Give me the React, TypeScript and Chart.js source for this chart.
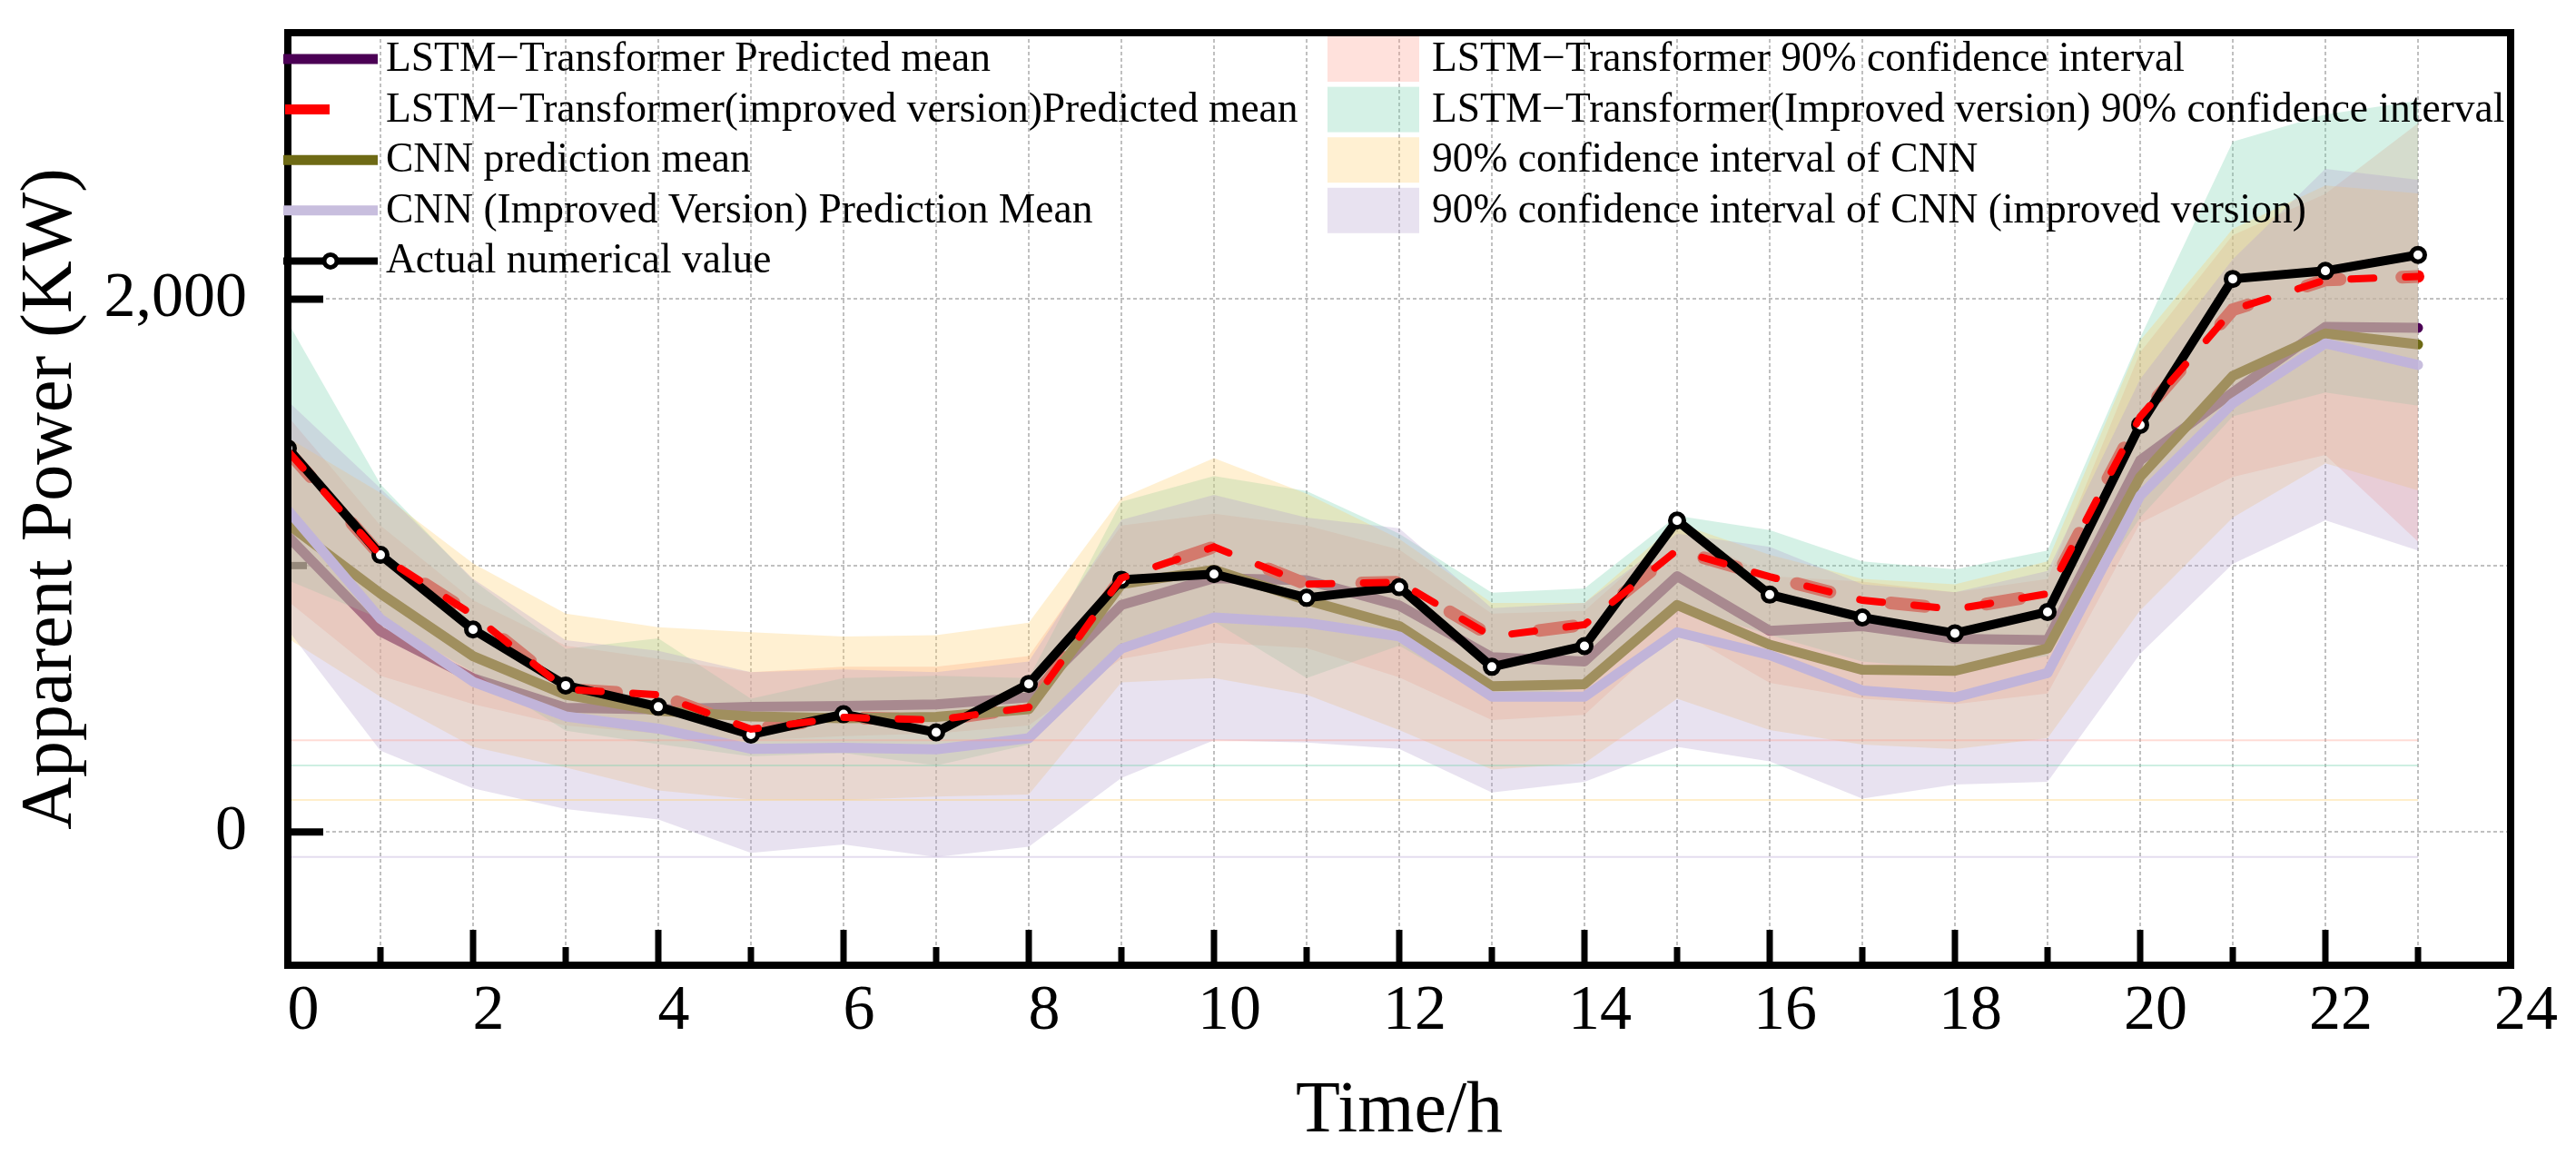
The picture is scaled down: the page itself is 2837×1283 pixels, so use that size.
import {
  Chart,
  type ChartConfiguration,
  type ChartDataset,
  type Plugin,
  registerables,
} from "chart.js";
import { useEffect, useRef } from "react";

Chart.register(...registerables);

const FONT = '"Liberation Serif", "Times New Roman", serif';

const hours = [0, 1, 2, 3, 4, 5, 6, 7, 8, 9, 10, 11, 12, 13, 14, 15, 16, 17, 18, 19, 20, 21, 22, 23];

const actualValues = [1440, 1040, 760, 550, 470, 366, 442, 374, 556, 947, 968, 879, 919, 620, 698, 1169, 891, 805, 746, 826, 1528, 2076, 2106, 2166];

const lstmMean = [1110, 753, 577, 466, 460, 470, 473, 479, 505, 852, 953, 945, 850, 656, 640, 960, 755, 773, 725, 720, 1395, 1650, 1896, 1892];
const lstmImprovedMean = [1430, 1038, 815, 535, 515, 386, 430, 420, 468, 953, 1070, 930, 938, 734, 778, 1058, 958, 870, 836, 894, 1558, 1960, 2072, 2085];
const cnnMean = [1156, 895, 660, 515, 455, 434, 427, 432, 461, 930, 984, 870, 773, 547, 555, 852, 703, 609, 605, 689, 1333, 1712, 1871, 1830];
const cnnImprovedMean = [1208, 800, 564, 434, 388, 312, 316, 310, 352, 688, 805, 785, 734, 508, 508, 750, 664, 531, 505, 597, 1262, 1609, 1834, 1753];

const lstmUpper = [1560, 1150, 870, 700, 650, 600, 620, 620, 660, 1150, 1195, 1150, 1060, 820, 830, 1140, 960, 940, 900, 950, 1800, 2240, 2395, 2660];
const lstmLower = [867, 586, 480, 400, 370, 344, 360, 370, 400, 650, 711, 690, 580, 420, 440, 760, 560, 500, 480, 520, 1160, 1333, 1415, 1090];
const lstmImprovedUpper = [1914, 1305, 945, 688, 727, 500, 578, 586, 578, 1240, 1336, 1280, 1120, 898, 914, 1187, 1133, 1016, 986, 1057, 1855, 2591, 2693, 2744];
const lstmImprovedLower = [945, 800, 600, 380, 330, 284, 297, 250, 328, 700, 790, 578, 700, 500, 540, 850, 740, 640, 610, 660, 1180, 1560, 1650, 1600];
const cnnUpper = [1480, 1273, 1008, 820, 769, 750, 734, 739, 786, 1253, 1403, 1270, 1100, 860, 860, 1160, 1040, 950, 930, 1016, 1845, 2264, 2427, 2397];
const cnnLower = [727, 508, 320, 242, 156, 122, 120, 133, 141, 562, 578, 516, 383, 234, 258, 500, 383, 328, 311, 352, 832, 1180, 1384, 1282];
const cnnImprovedUpper = [1617, 1290, 950, 720, 680, 600, 610, 600, 640, 1172, 1265, 1180, 1140, 840, 860, 1120, 1070, 930, 900, 980, 1700, 2150, 2489, 2448];
const cnnImprovedLower = [758, 305, 164, 86, 47, -78, -47, -94, -55, 203, 344, 336, 312, 148, 188, 320, 265, 125, 178, 188, 669, 1006, 1170, 1057];

// faint horizontal lines left at the floor of each band
const bandFloors = [344, 250, 120, -94];

const xTickLabels = [0, 2, 4, 6, 8, 10, 12, 14, 16, 18, 20, 22, 24];
const yGridValues = [0, 1000, 2000];
const yTickLabels = [0, 2000];

const lineLegend = [
  "LSTM−Transformer Predicted mean",
  "LSTM−Transformer(improved version)Predicted mean",
  "CNN prediction mean",
  "CNN (Improved Version) Prediction Mean",
  "Actual numerical value",
];
const bandLegend = [
  "LSTM−Transformer 90% confidence interval",
  "LSTM−Transformer(Improved version) 90% confidence interval",
  "90% confidence interval of CNN",
  "90% confidence interval of CNN (improved version)",
];

const PURPLE = "#4b0055";
const RED = "#ff0000";
const OLIVE = "#6e6a15";
const LAVENDER = "#c8bede";
const GRID = "#c0c0c0";
const bandColors = [
  "rgba(255, 155, 138, 0.3)",
  "rgba(115, 208, 172, 0.3)",
  "rgba(255, 205, 105, 0.3)",
  "rgba(178, 158, 205, 0.3)",
];
const floorColors = [
  "rgba(255, 155, 138, 0.35)",
  "rgba(115, 208, 172, 0.35)",
  "rgba(255, 205, 105, 0.35)",
  "rgba(178, 158, 205, 0.35)",
];

function points(values: number[]) {
  return hours.map((h, i) => ({ x: h, y: values[i] }));
}

function meanLine(
  label: string,
  values: number[],
  color: string,
  order: number,
): ChartDataset<"line"> {
  return {
    label,
    data: points(values),
    borderColor: color,
    borderWidth: 11,
    borderCapStyle: "round",
    borderJoinStyle: "round",
    pointRadius: 0,
    fill: false,
    order,
  };
}

function band(
  label: string,
  upper: number[],
  lower: number[],
  color: string,
  order: number,
): ChartDataset<"line">[] {
  return [
    {
      label: `${label} lower`,
      data: points(lower),
      borderWidth: 0,
      borderColor: "transparent",
      pointRadius: 0,
      fill: false,
      order,
    },
    {
      label,
      data: points(upper),
      borderWidth: 0,
      borderColor: "transparent",
      backgroundColor: color,
      pointRadius: 0,
      fill: "-1",
      order,
    },
  ];
}

const backgroundPlugin: Plugin<"line"> = {
  id: "whiteBackground",
  beforeDraw(chart) {
    const { ctx, width, height } = chart;
    ctx.save();
    ctx.fillStyle = "#ffffff";
    ctx.fillRect(0, 0, width, height);
    ctx.restore();
  },
};

const innerTicksPlugin: Plugin<"line"> = {
  id: "innerTicks",
  beforeDatasetsDraw(chart) {
    const { ctx, chartArea, scales } = chart;
    const x = scales.x;
    const y = scales.y;
    ctx.save();
    ctx.strokeStyle = "#000000";
    ctx.lineCap = "butt";
    ctx.lineWidth = 7;
    x.ticks.forEach((tick) => {
      if (tick.value <= x.min || tick.value >= x.max) return;
      const px = x.getPixelForValue(tick.value);
      const len = xTickLabels.includes(tick.value) ? 39 : 20;
      ctx.beginPath();
      ctx.moveTo(px, chartArea.bottom);
      ctx.lineTo(px, chartArea.bottom - len);
      ctx.stroke();
    });
    ctx.lineWidth = 8;
    y.ticks.forEach((tick) => {
      if (tick.value <= y.min || tick.value >= y.max) return;
      const py = y.getPixelForValue(tick.value);
      const len = yTickLabels.includes(tick.value) ? 39 : 21;
      ctx.beginPath();
      ctx.moveTo(chartArea.left, py);
      ctx.lineTo(chartArea.left + len, py);
      ctx.stroke();
    });
    ctx.restore();
  },
};

const frameLegendPlugin: Plugin<"line"> = {
  id: "frameLegend",
  afterDraw(chart) {
    const { ctx, chartArea } = chart;
    const { left, top, right, bottom } = chartArea;
    ctx.save();
    ctx.strokeStyle = "#000000";
    ctx.lineWidth = 8;
    ctx.lineJoin = "miter";
    ctx.strokeRect(left, top, right - left, bottom - top);

    const rowY = (i: number) => top + 29 + i * 55.6;
    const symStart = left - 5;
    const symEnd = left + 99;

    ctx.font = `45.5px ${FONT}`;
    ctx.textBaseline = "middle";
    ctx.textAlign = "left";

    const lineStyles = [
      { color: PURPLE, width: 11 },
      { color: RED, width: 11 },
      { color: OLIVE, width: 11 },
      { color: LAVENDER, width: 11 },
      { color: "#000000", width: 8 },
    ];
    lineLegend.forEach((text, i) => {
      const yy = rowY(i);
      const style = lineStyles[i];
      ctx.strokeStyle = style.color;
      ctx.lineWidth = style.width;
      ctx.lineCap = "butt";
      ctx.beginPath();
      if (i === 1) {
        ctx.moveTo(symStart + 2, yy);
        ctx.lineTo(symStart + 51, yy);
      } else {
        ctx.moveTo(symStart, yy);
        ctx.lineTo(symEnd, yy);
      }
      ctx.stroke();
      if (i === 4) {
        ctx.beginPath();
        ctx.arc((symStart + symEnd) / 2, yy, 7, 0, Math.PI * 2);
        ctx.fillStyle = "#ffffff";
        ctx.fill();
        ctx.lineWidth = 5;
        ctx.strokeStyle = "#000000";
        ctx.stroke();
      }
      ctx.fillStyle = "#000000";
      ctx.fillText(text, left + 108, yy + 1);
    });

    bandLegend.forEach((text, i) => {
      const yy = rowY(i);
      ctx.fillStyle = bandColors[i];
      ctx.fillRect(left + 1145, yy - 25, 101, 50);
      ctx.fillStyle = "#000000";
      ctx.fillText(text, left + 1260, yy + 1);
    });
    ctx.restore();
  },
};

function buildConfig(): ChartConfiguration<"line"> {
  const floorLines: ChartDataset<"line">[] = bandFloors.map((v, i) => ({
    label: `floor ${i}`,
    data: [
      { x: hours[0], y: v },
      { x: hours[hours.length - 1], y: v },
    ],
    borderColor: floorColors[i],
    borderWidth: 2,
    pointRadius: 0,
    fill: false,
    order: 5,
  }));

  // drawing order (high order = further down): purple line, pink band,
  // red under-stroke, mint band, olive line, cream band, lavender line,
  // lavender band, then actual values and the red dashed mean on top
  const datasets: ChartDataset<"line">[] = [
    meanLine(lineLegend[0], lstmMean, PURPLE, 30),
    ...band(bandLegend[0], lstmUpper, lstmLower, bandColors[0], 29),
    {
      label: "improved mean (under)",
      data: points(lstmImprovedMean),
      borderColor: RED,
      borderWidth: 14,
      borderDash: [38, 68],
      borderCapStyle: "round",
      pointRadius: 0,
      fill: false,
      order: 28,
    },
    ...band(bandLegend[1], lstmImprovedUpper, lstmImprovedLower, bandColors[1], 27),
    meanLine(lineLegend[2], cnnMean, OLIVE, 26),
    ...band(bandLegend[2], cnnUpper, cnnLower, bandColors[2], 25),
    meanLine(lineLegend[3], cnnImprovedMean, LAVENDER, 24),
    ...band(bandLegend[3], cnnImprovedUpper, cnnImprovedLower, bandColors[3], 23),
    ...floorLines,
    {
      label: lineLegend[4],
      data: points(actualValues),
      borderColor: "#000000",
      borderWidth: 10,
      borderJoinStyle: "round",
      pointRadius: 7.5,
      pointBorderWidth: 5,
      pointBackgroundColor: "#ffffff",
      pointBorderColor: "#000000",
      fill: false,
      order: 2,
    },
    {
      label: lineLegend[1],
      data: points(lstmImprovedMean),
      borderColor: RED,
      borderWidth: 8,
      borderDash: [25, 35],
      borderCapStyle: "round",
      pointRadius: 0,
      fill: false,
      order: 1,
    },
  ];

  return {
    type: "line",
    data: { datasets },
    plugins: [backgroundPlugin, innerTicksPlugin, frameLegendPlugin],
    options: {
      animation: false,
      responsive: true,
      maintainAspectRatio: false,
      devicePixelRatio: 1,
      layout: { padding: { top: 36, right: 72, left: 0, bottom: 0 } },
      elements: { line: { tension: 0 } },
      plugins: {
        legend: { display: false },
        tooltip: { enabled: false },
      },
      scales: {
        x: {
          type: "linear",
          min: 0,
          max: 24,
          afterFit(scale) {
            scale.height = 220;
            scale.paddingLeft = 0;
            scale.paddingRight = 0;
          },
          border: { display: false, dash: [4, 3] },
          grid: { color: GRID, lineWidth: 2, drawTicks: false },
          ticks: {
            stepSize: 1,
            autoSkip: false,
            maxRotation: 0,
            padding: 10,
            labelOffset: 17,
            color: "#000000",
            font: { family: FONT, size: 70 },
            callback(value) {
              return xTickLabels.includes(Number(value)) ? String(value) : "";
            },
          },
          title: {
            display: true,
            text: "Time/h",
            color: "#000000",
            font: { family: FONT, size: 80 },
            padding: { top: 0, bottom: 10 },
          },
        },
        y: {
          type: "linear",
          min: -500,
          max: 3000,
          afterBuildTicks(scale) {
            scale.ticks = yGridValues.map((value) => ({ value }));
          },
          afterFit(scale) {
            scale.width = 317;
            scale.paddingTop = 0;
            scale.paddingBottom = 0;
          },
          border: { display: false, dash: [4, 3] },
          grid: { color: GRID, lineWidth: 2, drawTicks: false },
          ticks: {
            padding: 45,
            color: "#000000",
            font: { family: FONT, size: 70 },
            callback(value) {
              const v = Number(value);
              return yTickLabels.includes(v) ? v.toLocaleString("en-US") : "";
            },
          },
          title: {
            display: true,
            text: "Apparent Power (KW)",
            color: "#000000",
            font: { family: FONT, size: 80 },
            padding: { top: 9, bottom: 0 },
          },
        },
      },
    },
  };
}

export default function App() {
  const canvasRef = useRef<HTMLCanvasElement>(null);

  useEffect(() => {
    if (!canvasRef.current) {
      return;
    }
    const chart = new Chart(canvasRef.current, buildConfig());
    return () => {
      chart.destroy();
    };
  }, []);

  return (
    <div
      style={{
        position: "fixed",
        left: 0,
        top: 0,
        width: 2837,
        height: 1283,
        background: "#ffffff",
      }}
    >
      <canvas ref={canvasRef} />
    </div>
  );
}
